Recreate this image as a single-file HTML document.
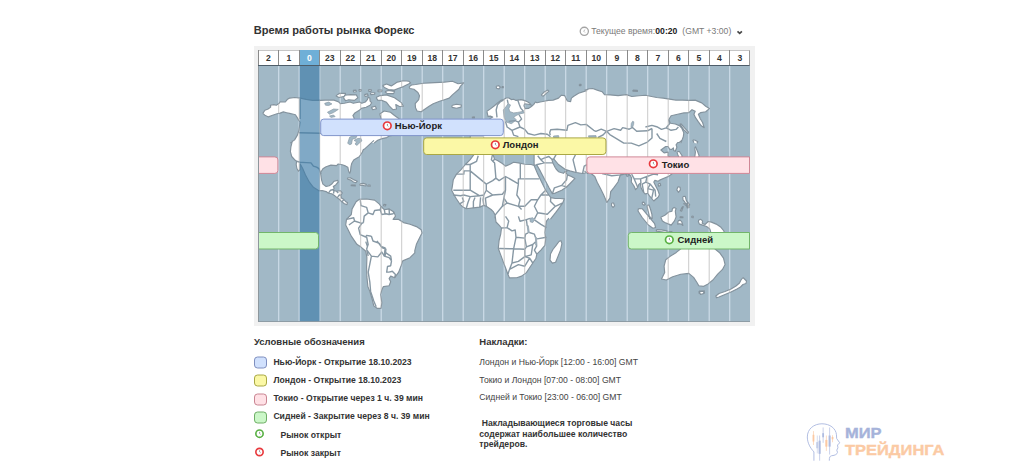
<!DOCTYPE html>
<html lang="ru">
<head>
<meta charset="utf-8">
<title>Время работы рынка Форекс</title>
<style>
html,body{margin:0;padding:0;background:#fff;}
body{width:1024px;height:473px;position:relative;overflow:hidden;font-family:"Liberation Sans",sans-serif;color:#333;}
.abs{position:absolute;white-space:nowrap;}
#title{left:253.8px;top:22px;font-size:11.05px;font-weight:bold;line-height:16.6px;color:#333;}
#curtime{left:591.2px;top:26px;font-size:8.64px;line-height:11px;color:#7a7a7a;}
#ct2,#ct3{top:26px;font-size:8.64px;line-height:11px;color:#7a7a7a;}
#ct2{left:655.3px;color:#222;}
#ct3{left:682.3px;}
#panel{left:254.2px;top:46px;width:500.4px;height:279.9px;background:#f1f1f1;}
#hours{z-index:2;left:257.6px;top:49.7px;width:492.2px;height:16px;background:#fff;border-top:1px solid #c6c6c6;border-bottom:1px solid #4e5d69;border-right:1px solid #999;box-sizing:border-box;}
#hours div{position:absolute;top:-1px;height:15px;width:20.5px;border-left:1px solid #8a8a8a;box-sizing:border-box;text-align:center;font-size:8.64px;font-weight:bold;line-height:16.6px;color:#333;}
#hours div.cur{background:#6fafd7;color:#fff;}
#map{left:258px;top:65px;width:492px;height:257px;background:#a1b8c6;overflow:hidden;}
.bar{position:absolute;box-sizing:border-box;height:17px;border:1px solid transparent;font-size:9.5px;font-weight:bold;line-height:14px;color:#222;background:none !important;border-color:transparent !important;}
.bl{position:absolute;top:2px;line-height:0;transform:translate(-0.2px,0.3px);}
.bt{position:absolute;top:0;}
.ic{display:block;}
.ny{background:#d1e1fd;border-color:#8c9fcf;}
.ln{background:#fbf8a6;border-color:#b4b45e;}
.tk{background:#ffe1e6;border-color:#dd9aa8;}
.sy{background:#cbf7c8;border-color:#7fbf78;}
.leg{font-size:8.64px;font-weight:bold;line-height:11px;color:#333;}
.sw{position:absolute;left:254.3px;width:12.3px;height:12px;box-sizing:border-box;border-width:1px;border-style:solid;border-radius:3.5px;transform:translateY(0.5px);}
.sw.ny{border-color:#7f8fbf;}.sw.ln{border-color:#a9a844;}.sw.tk{border-color:#c98592;}.sw.sy{border-color:#6fae66;}
.ov{font-size:8.64px;line-height:11px;color:#444;}
#lg1,#lg2{left:844.8px;font-size:14.2px;font-weight:bold;line-height:14px;transform-origin:0 0;-webkit-text-stroke:0.35px;}
#lg1{top:426.3px;color:#a6b3da;-webkit-text-stroke-color:#a6b3da;transform:scaleX(1.16);}
#lg2{top:443px;color:#fbcaa4;-webkit-text-stroke-color:#fbcaa4;transform:scaleX(1.16);}
</style>
</head>
<body>
<div id="title" class="abs">Время работы рынка Форекс</div>
<div id="curtime" class="abs">Текущее время:</div><div class="abs" id="ct2"><b>00:20</b></div><div class="abs" id="ct3">(GMT +3:00)</div>
<svg class="abs" style="left:578px;top:25px;" width="12" height="12" viewBox="0 0 12 12"><circle cx="6.3" cy="6.35" r="4.1" fill="#fff" stroke="#a4a4a4" stroke-width="1.3"/><path d="M6.8 4.6L5.8 6.3L7 7.5" fill="none" stroke="#b0b0b0" stroke-width="0.9"/></svg>
<svg class="abs" style="left:735px;top:28px;" width="9" height="8" viewBox="0 0 9 8"><path d="M2.5 3.4L4.7 5.4L6.9 3.4" fill="none" stroke="#484848" stroke-width="1.7"/></svg>
<div id="panel" class="abs"></div>
<div id="hours" class="abs"><div style="left:0.0px">2</div><div style="left:20.5px">1</div><div class="cur" style="left:41.0px">0</div><div style="left:61.5px">23</div><div style="left:82.0px">22</div><div style="left:102.5px">21</div><div style="left:123.0px">20</div><div style="left:143.5px">19</div><div style="left:164.0px">18</div><div style="left:184.5px">17</div><div style="left:205.0px">16</div><div style="left:225.5px">15</div><div style="left:246.0px">14</div><div style="left:266.5px">13</div><div style="left:287.0px">12</div><div style="left:307.5px">11</div><div style="left:328.0px">10</div><div style="left:348.5px">9</div><div style="left:369.0px">8</div><div style="left:389.5px">7</div><div style="left:410.0px">6</div><div style="left:430.5px">5</div><div style="left:451.0px">4</div><div style="left:471.5px">3</div></div>
<div id="map" class="abs">
<svg width="492" height="257" viewBox="0 0 492 257" style="position:absolute;left:0;top:0;">
<defs><clipPath id="lc"><path d="M4.8 48.4L6.9 45.3L10.1 44.0L12.7 42.1L12.4 40.2L15.9 39.6L18.3 40.2L20.9 38.6L22.2 36.7L27.3 37.0L29.2 34.6L31.6 33.1L36.8 32.5L42.1 33.1L48.2 34.4L54.6 35.4L61.0 35.1L62.3 35.4L67.1 35.1L76.0 35.1L80.8 37.0L82.4 38.6L86.4 38.3L92.0 37.0L95.3 38.3L101.7 37.0L103.8 38.3L107.3 37.0L109.4 34.6L110.2 32.2L111.8 33.0L112.1 36.2L113.7 37.8L112.1 40.2L108.1 42.3L103.3 43.4L101.7 45.0L96.9 47.9L94.9 50.6L96.1 53.0L96.4 56.4L123.7 56.4L121.8 48.9L126.1 46.0L132.5 47.3L136.5 50.5L141.4 54.0L145.4 58.8L149.4 63.6L141.4 69.1L131.4 70.9L128.8 72.6L124.0 73.6L119.7 75.2L116.0 78.1L32.1 78.1L36.6 74.9L39.4 70.1L41.0 65.3L42.1 57.2L40.6 55.0L39.4 52.9L37.4 49.7L35.5 49.3L31.6 48.4L28.6 47.7L25.4 46.9L22.2 48.1L19.0 48.7L14.6 50.3L10.4 51.9L6.9 50.3ZM77.9 30.9L81.6 28.3L87.5 28.3L86.7 31.2L81.1 32.5ZM85.5 32.8L86.7 30.2L92.4 29.6L98.3 29.9L99.9 32.8L96.4 35.4L90.8 34.7L87.5 35.7ZM95.1 25.4L98.0 25.1L98.3 26.7L95.7 27.0ZM100.9 24.5L103.1 24.5L103.1 26.1L101.2 26.1ZM110.5 24.5L113.4 24.8L113.1 26.4L110.8 26.4ZM112.4 27.7L116.9 27.7L116.6 29.3L112.8 29.6ZM106.3 29.6L109.5 28.9L110.2 30.6L107.3 31.5ZM119.7 25.1L124.0 25.1L123.7 26.7L120.1 26.7ZM118.1 32.5L122.1 30.6L128.5 29.9L136.5 32.8L143.3 37.6L145.4 41.2L141.4 41.5L137.8 39.6L138.5 44.0L134.9 44.7L131.4 41.2L128.5 37.3L123.7 35.4L119.7 35.1ZM126.9 26.7L130.4 25.4L136.5 26.4L135.7 28.6L129.3 28.6ZM124.5 20.6L128.5 19.0L133.3 20.9L139.4 17.1L145.4 15.8L151.0 16.3L152.6 18.0L145.4 21.6L140.1 23.5L136.2 25.1L130.4 24.5L126.9 22.8ZM113.2 42.4L117.3 41.2L118.5 43.7L114.8 44.7ZM193.7 40.5L198.4 39.2L203.4 40.0L203.0 42.1L198.5 43.2L194.2 42.4ZM214.4 51.8L216.4 51.8L216.4 53.0L214.4 53.0ZM238.2 21.2L240.8 20.6L242.4 22.2L240.8 24.0L238.5 23.3ZM244.0 21.6L245.3 21.6L245.3 22.7L244.0 22.7ZM283.2 30.2L285.8 27.3L289.9 25.1L290.9 26.1L288.0 28.6L285.4 31.2ZM321.4 19.3L323.0 19.3L323.0 20.6L321.4 20.6ZM228.9 46.3L232.4 43.9L236.4 40.7L239.3 38.3L242.9 35.4L245.8 34.6L248.2 33.0L250.9 33.0L253.3 34.6L255.7 34.2L258.1 35.4L262.9 34.6L266.2 35.4L269.4 36.7L271.8 38.3L273.2 40.0L270.2 39.2L266.6 38.7L266.0 40.7L267.1 43.6L270.7 43.4L273.4 41.5L275.8 39.4L277.4 37.0L279.0 37.8L282.2 37.0L286.2 36.2L290.3 35.4L295.1 35.1L300.5 33.1L303.4 30.2L306.6 30.6L307.8 33.1L309.4 36.0L312.6 36.7L313.4 33.1L315.8 31.2L320.6 28.3L329.4 25.4L329.4 78.1L212.2 78.1L212.2 71.0L225.0 71.0L231.5 54.0L234.7 52.1L232.3 51.1L230.0 51.4ZM326.4 25.4L331.2 23.8L334.7 23.5L339.2 25.1L344.1 26.7L346.5 29.6L352.1 29.9L360.1 30.6L368.2 29.6L373.8 31.5L381.0 30.7L387.4 30.2L392.3 31.2L398.7 32.5L405.1 33.1L411.5 34.1L418.0 35.1L424.4 35.1L430.8 35.4L437.2 35.1L443.7 37.9L447.7 41.2L451.4 43.6L447.7 46.8L442.8 47.6L440.4 49.2L442.4 54.0L444.6 57.5L446.2 62.7L443.3 60.8L440.4 56.9L437.5 52.7L435.9 49.2L437.2 46.3L434.0 44.7L430.8 47.6L426.0 47.9L419.6 49.2L413.1 50.8L410.7 54.8L412.5 58.2L417.3 59.0L421.3 60.6L423.7 63.0L425.8 67.8L425.3 71.8L423.7 75.9L422.8 78.1L326.4 78.1ZM374.9 25.1L379.4 25.4L379.4 26.4L374.9 26.1ZM421.8 59.1L423.1 58.8L426.3 62.7L430.5 67.2L429.8 68.5L425.7 64.6ZM434.7 74.7L437.2 75.2L439.8 76.7L438.8 78.4L435.9 77.8ZM116.0 75.4L110.8 80.2L107.3 83.4L105.2 84.7L104.4 87.0L101.2 91.8L95.7 95.0L93.8 98.2L93.0 101.4L92.5 106.2L91.7 108.2L90.6 106.2L89.8 102.2L87.4 100.9L84.2 99.8L80.2 99.0L78.5 100.6L72.9 100.1L68.1 101.7L64.9 103.8L62.5 107.8L63.6 115.1L64.9 119.1L68.1 121.5L71.3 120.7L73.7 119.1L76.1 116.2L79.7 115.4L80.2 117.0L77.7 119.9L75.3 121.5L76.1 123.1L75.3 125.5L78.5 126.3L82.6 125.8L84.2 127.9L82.9 130.3L83.4 132.9L85.9 134.5L87.5 136.4L89.6 137.7L89.0 139.6L86.4 138.7L83.8 136.8L81.6 134.5L79.3 132.9L76.1 130.3L73.7 128.7L70.5 128.2L68.1 126.6L64.1 125.5L60.9 125.8L55.4 122.3L51.4 117.2L47.5 109.9L44.7 103.5L42.1 98.7L42.1 104.3L40.5 106.2L38.9 103.5L38.2 99.5L38.6 96.3L36.6 94.7L33.7 91.5L32.4 86.6L32.9 81.8L34.5 75.4ZM89.3 113.0L92.2 112.7L95.4 114.6L99.4 116.2L97.8 117.8L95.4 117.0L93.0 115.1L89.8 114.3ZM101.8 118.8L105.2 118.4L108.3 119.4L107.9 121.0L104.4 120.4L102.2 120.4ZM109.9 120.0L112.1 120.0L112.1 121.3L109.9 121.2ZM93.2 119.7L97.3 120.0L97.3 121.0L93.2 120.7ZM125.6 139.3L127.9 139.6L127.5 140.9L125.6 140.6ZM217.0 88.2L228.3 88.2L234.7 88.6L236.6 94.3L239.5 95.6L244.3 98.5L247.5 101.1L251.5 99.5L255.6 97.2L260.4 97.9L266.8 99.2L273.2 99.5L276.1 100.5L279.7 109.1L283.7 117.2L287.7 125.2L290.9 130.0L292.8 132.6L297.3 133.5L302.1 133.5L306.3 133.9L304.7 138.0L302.1 141.6L297.6 147.7L292.5 154.1L237.6 154.1L237.1 150.1L235.5 146.9L233.1 144.5L228.3 141.3L225.8 140.4L221.8 142.1L215.4 142.9L208.2 143.7L205.0 142.1L201.7 138.8L198.5 134.0L196.1 130.0L193.7 125.2L194.5 120.4L195.3 114.7L198.5 109.1L202.6 105.1L207.4 99.5L212.2 94.7ZM329.4 88.2L329.4 107.5L324.6 108.5L318.2 107.5L311.8 105.9L307.0 104.3L300.5 99.5L295.7 93.9L293.8 94.3L294.9 97.9L297.3 102.7L298.1 104.0L300.5 106.7L305.4 108.3L307.4 106.2L309.4 105.6L307.8 107.5L309.4 109.9L313.4 111.5L316.9 113.6L315.8 114.7L312.6 118.0L308.6 122.0L303.7 125.2L297.3 128.1L294.4 128.7L290.9 122.5L286.7 114.4L282.5 106.4L278.7 99.8L276.1 100.5L276.1 88.2ZM423.7 75.4L421.3 77.5L419.7 77.5L418.1 79.9L418.9 82.3L417.3 86.3L415.7 85.5L415.4 82.8L413.8 84.4L411.5 84.1L410.1 81.5L407.7 81.5L402.9 85.0L406.1 87.9L410.1 87.1L410.1 91.1L413.1 93.1L414.7 105.9L413.8 109.0L410.6 111.4L406.5 113.0L401.7 115.1L400.1 116.2L396.9 115.4L395.8 117.0L397.7 121.0L400.1 125.8L401.4 129.8L400.1 132.3L397.7 134.3L395.8 136.0L393.7 133.5L391.3 130.6L389.7 128.2L387.3 129.0L385.7 127.4L383.3 123.4L382.5 120.2L382.9 117.8L380.8 119.4L379.7 122.3L377.6 124.7L376.0 121.0L373.3 117.0L373.6 113.0L372.0 109.8L368.0 109.0L362.4 109.8L360.0 117.0L355.9 122.6L352.7 126.6L351.9 133.1L350.5 135.1L348.9 137.4L345.7 130.0L342.5 123.6L339.2 117.2L336.8 111.5L332.8 108.2L329.6 108.5L326.4 105.9L326.4 75.4ZM389.0 140.4L391.0 140.0L392.6 144.5L393.9 149.3L394.2 154.1L391.6 154.1L391.0 149.3L389.7 144.5ZM353.7 138.0L355.6 138.0L356.6 140.9L355.0 142.5L353.5 140.6ZM400.1 119.1L402.2 118.4L402.7 120.4L400.6 121.2ZM419.9 121.7L422.1 122.3L422.4 124.9L420.5 127.4L418.8 124.9ZM424.7 131.6L427.3 131.3L428.2 135.1L430.2 138.7L428.6 140.0L426.3 136.4L425.0 134.8ZM428.9 140.9L430.8 140.6L431.1 142.5L429.2 142.9ZM424.1 141.9L425.3 141.6L423.7 146.1L422.4 145.7ZM384.1 137.4L385.8 137.1L387.3 139.3L386.1 140.3L384.5 139.3ZM418.9 87.1L421.2 86.3L424.1 90.8L423.7 93.1L421.2 93.1L419.9 89.9ZM436.6 83.1L437.5 81.8L439.8 87.1L441.1 90.8L440.4 93.1L436.6 93.1L437.4 87.1ZM292.5 151.4L290.9 153.0L288.5 156.2L287.7 161.0L286.9 167.5L287.7 173.9L286.9 180.3L282.9 185.1L278.8 189.1L278.0 193.2L274.8 198.0L271.6 202.8L268.4 207.6L263.6 211.1L258.8 212.8L251.5 212.9L249.9 209.2L247.5 202.8L245.1 196.4L242.7 189.9L240.3 183.5L241.1 175.5L242.7 169.1L243.5 163.0L241.1 160.2L238.0 157.0L237.6 154.0L236.6 151.4ZM302.9 175.5L303.9 178.7L302.5 185.1L299.9 191.6L297.6 197.2L294.4 198.1L292.0 195.1L292.5 189.1L294.9 184.5L298.1 180.3L301.0 176.5ZM394.5 151.4L393.2 154.0L391.9 151.4ZM398.4 164.6L403.5 164.9L409.1 165.9L409.0 167.5L403.5 166.8L398.4 166.2ZM410.7 166.5L413.9 166.5L413.9 167.5L410.7 167.5ZM456.5 169.1L456.5 183.5L461.6 187.7L465.5 193.2L467.1 199.6L464.5 204.4L459.7 209.2L454.9 215.0L450.1 218.9L445.3 221.4L440.8 220.8L438.8 217.3L435.6 212.4L430.8 208.4L422.8 209.2L414.7 211.8L408.3 215.0L403.5 214.0L406.7 207.6L406.1 201.2L407.7 194.8L411.8 191.6L418.3 187.4L422.8 183.8L422.8 169.1ZM441.4 226.6L445.3 226.2L446.1 228.5L442.4 229.5ZM441.1 226.0L446.2 225.7L446.5 227.9L443.6 229.2L441.1 228.2ZM440.6 155.1L442.6 154.3L444.6 155.9L444.2 158.3L447.0 159.5L450.2 156.5L453.4 157.1L458.2 159.1L463.0 162.3L465.5 165.5L466.3 167.1L466.6 168.7L452.8 168.7L452.6 166.7L451.8 163.9L448.6 161.5L444.6 160.1L441.4 159.1L440.4 156.7ZM402.8 152.3L406.8 150.3L410.8 147.0L414.0 146.2L414.4 143.8L416.1 142.4L418.1 143.4L417.3 146.2L417.7 149.1L418.1 151.9L416.5 155.9L413.2 160.1L410.8 159.1L406.8 157.5L404.4 155.9ZM420.1 155.9L422.1 155.1L423.7 156.7L424.9 160.5L423.3 159.1L421.3 158.7L419.7 159.1ZM425.3 138.6L428.5 139.0L429.7 137.0L431.7 139.8L429.3 142.2L428.1 140.6ZM422.1 151.5L424.9 151.7L424.9 152.7L422.1 152.6ZM433.7 151.0L435.3 151.2L435.2 152.7L433.8 152.5ZM101.4 134.3L108.6 134.0L116.6 135.1L121.4 139.1L123.0 141.5L126.3 144.7L131.1 143.9L135.9 147.1L137.5 151.1L135.1 154.4L140.7 154.4L145.5 157.6L152.0 159.2L158.4 161.6L163.2 164.8L164.0 168.0L161.6 172.8L158.4 179.3L156.8 185.7L156.8 187.9L152.0 192.7L144.7 195.9L143.1 200.7L140.7 207.1L136.7 212.7L132.7 211.1L131.1 213.6L132.7 216.8L131.1 220.8L125.4 221.6L123.8 224.8L122.7 229.6L123.8 237.6L123.0 243.3L119.0 243.3L115.8 240.9L114.2 234.4L111.8 226.4L109.9 221.6L108.9 211.9L108.6 202.3L108.9 192.7L107.8 186.2L102.2 181.4L98.9 179.3L93.3 171.2L90.1 164.8L87.7 160.0L88.5 154.4L93.3 149.5L94.1 143.9L98.1 136.7ZM151.1 21.9L153.5 20.0L157.5 19.5L165.5 18.3L172.0 17.9L186.4 17.1L194.4 16.3L200.1 18.7L205.7 17.9L202.5 21.1L200.9 24.3L194.4 29.9L191.2 33.1L186.4 34.7L181.6 36.3L175.2 38.7L171.1 41.2L167.1 44.0L163.1 46.8L159.1 46.0L157.5 42.8L157.2 38.7L160.7 34.7L161.5 30.7L159.9 27.5L155.9 24.3L151.9 23.5ZM380.4 143.6L384.2 143.7L390.4 151.2L396.6 158.7L397.6 162.5L394.9 163.2L390.4 160.0L384.2 152.5L380.0 146.0ZM485.0 212.5L486.5 214.0L488.5 216.0L488.0 218.5L485.0 219.5L482.5 222.0L479.0 224.0L473.0 227.0L467.0 229.5L461.0 232.0L458.5 232.8L457.8 231.0L461.0 228.5L467.0 226.5L473.0 224.0L478.0 221.0L481.5 218.0L483.0 215.0Z"/></clipPath></defs>
<path d="M20.7 0V257M41.2 0V257M61.7 0V257M82.2 0V257M102.7 0V257M123.2 0V257M143.7 0V257M164.2 0V257M184.7 0V257M205.2 0V257M225.7 0V257M246.2 0V257M266.7 0V257M287.2 0V257M307.7 0V257M328.2 0V257M348.7 0V257M369.2 0V257M389.7 0V257M410.2 0V257M430.7 0V257M451.2 0V257M471.7 0V257" fill="none" stroke="#cddce8" stroke-width="1.2"/>
<path d="M4.8 48.4L6.9 45.3L10.1 44.0L12.7 42.1L12.4 40.2L15.9 39.6L18.3 40.2L20.9 38.6L22.2 36.7L27.3 37.0L29.2 34.6L31.6 33.1L36.8 32.5L42.1 33.1L48.2 34.4L54.6 35.4L61.0 35.1L62.3 35.4L67.1 35.1L76.0 35.1L80.8 37.0L82.4 38.6L86.4 38.3L92.0 37.0L95.3 38.3L101.7 37.0L103.8 38.3L107.3 37.0L109.4 34.6L110.2 32.2L111.8 33.0L112.1 36.2L113.7 37.8L112.1 40.2L108.1 42.3L103.3 43.4L101.7 45.0L96.9 47.9L94.9 50.6L96.1 53.0L96.4 56.4L123.7 56.4L121.8 48.9L126.1 46.0L132.5 47.3L136.5 50.5L141.4 54.0L145.4 58.8L149.4 63.6L141.4 69.1L131.4 70.9L128.8 72.6L124.0 73.6L119.7 75.2L116.0 78.1L32.1 78.1L36.6 74.9L39.4 70.1L41.0 65.3L42.1 57.2L40.6 55.0L39.4 52.9L37.4 49.7L35.5 49.3L31.6 48.4L28.6 47.7L25.4 46.9L22.2 48.1L19.0 48.7L14.6 50.3L10.4 51.9L6.9 50.3ZM77.9 30.9L81.6 28.3L87.5 28.3L86.7 31.2L81.1 32.5ZM85.5 32.8L86.7 30.2L92.4 29.6L98.3 29.9L99.9 32.8L96.4 35.4L90.8 34.7L87.5 35.7ZM95.1 25.4L98.0 25.1L98.3 26.7L95.7 27.0ZM100.9 24.5L103.1 24.5L103.1 26.1L101.2 26.1ZM110.5 24.5L113.4 24.8L113.1 26.4L110.8 26.4ZM112.4 27.7L116.9 27.7L116.6 29.3L112.8 29.6ZM106.3 29.6L109.5 28.9L110.2 30.6L107.3 31.5ZM119.7 25.1L124.0 25.1L123.7 26.7L120.1 26.7ZM118.1 32.5L122.1 30.6L128.5 29.9L136.5 32.8L143.3 37.6L145.4 41.2L141.4 41.5L137.8 39.6L138.5 44.0L134.9 44.7L131.4 41.2L128.5 37.3L123.7 35.4L119.7 35.1ZM126.9 26.7L130.4 25.4L136.5 26.4L135.7 28.6L129.3 28.6ZM124.5 20.6L128.5 19.0L133.3 20.9L139.4 17.1L145.4 15.8L151.0 16.3L152.6 18.0L145.4 21.6L140.1 23.5L136.2 25.1L130.4 24.5L126.9 22.8ZM113.2 42.4L117.3 41.2L118.5 43.7L114.8 44.7ZM193.7 40.5L198.4 39.2L203.4 40.0L203.0 42.1L198.5 43.2L194.2 42.4ZM214.4 51.8L216.4 51.8L216.4 53.0L214.4 53.0ZM238.2 21.2L240.8 20.6L242.4 22.2L240.8 24.0L238.5 23.3ZM244.0 21.6L245.3 21.6L245.3 22.7L244.0 22.7ZM283.2 30.2L285.8 27.3L289.9 25.1L290.9 26.1L288.0 28.6L285.4 31.2ZM321.4 19.3L323.0 19.3L323.0 20.6L321.4 20.6ZM228.9 46.3L232.4 43.9L236.4 40.7L239.3 38.3L242.9 35.4L245.8 34.6L248.2 33.0L250.9 33.0L253.3 34.6L255.7 34.2L258.1 35.4L262.9 34.6L266.2 35.4L269.4 36.7L271.8 38.3L273.2 40.0L270.2 39.2L266.6 38.7L266.0 40.7L267.1 43.6L270.7 43.4L273.4 41.5L275.8 39.4L277.4 37.0L279.0 37.8L282.2 37.0L286.2 36.2L290.3 35.4L295.1 35.1L300.5 33.1L303.4 30.2L306.6 30.6L307.8 33.1L309.4 36.0L312.6 36.7L313.4 33.1L315.8 31.2L320.6 28.3L329.4 25.4L329.4 78.1L212.2 78.1L212.2 71.0L225.0 71.0L231.5 54.0L234.7 52.1L232.3 51.1L230.0 51.4ZM326.4 25.4L331.2 23.8L334.7 23.5L339.2 25.1L344.1 26.7L346.5 29.6L352.1 29.9L360.1 30.6L368.2 29.6L373.8 31.5L381.0 30.7L387.4 30.2L392.3 31.2L398.7 32.5L405.1 33.1L411.5 34.1L418.0 35.1L424.4 35.1L430.8 35.4L437.2 35.1L443.7 37.9L447.7 41.2L451.4 43.6L447.7 46.8L442.8 47.6L440.4 49.2L442.4 54.0L444.6 57.5L446.2 62.7L443.3 60.8L440.4 56.9L437.5 52.7L435.9 49.2L437.2 46.3L434.0 44.7L430.8 47.6L426.0 47.9L419.6 49.2L413.1 50.8L410.7 54.8L412.5 58.2L417.3 59.0L421.3 60.6L423.7 63.0L425.8 67.8L425.3 71.8L423.7 75.9L422.8 78.1L326.4 78.1ZM374.9 25.1L379.4 25.4L379.4 26.4L374.9 26.1ZM421.8 59.1L423.1 58.8L426.3 62.7L430.5 67.2L429.8 68.5L425.7 64.6ZM434.7 74.7L437.2 75.2L439.8 76.7L438.8 78.4L435.9 77.8ZM116.0 75.4L110.8 80.2L107.3 83.4L105.2 84.7L104.4 87.0L101.2 91.8L95.7 95.0L93.8 98.2L93.0 101.4L92.5 106.2L91.7 108.2L90.6 106.2L89.8 102.2L87.4 100.9L84.2 99.8L80.2 99.0L78.5 100.6L72.9 100.1L68.1 101.7L64.9 103.8L62.5 107.8L63.6 115.1L64.9 119.1L68.1 121.5L71.3 120.7L73.7 119.1L76.1 116.2L79.7 115.4L80.2 117.0L77.7 119.9L75.3 121.5L76.1 123.1L75.3 125.5L78.5 126.3L82.6 125.8L84.2 127.9L82.9 130.3L83.4 132.9L85.9 134.5L87.5 136.4L89.6 137.7L89.0 139.6L86.4 138.7L83.8 136.8L81.6 134.5L79.3 132.9L76.1 130.3L73.7 128.7L70.5 128.2L68.1 126.6L64.1 125.5L60.9 125.8L55.4 122.3L51.4 117.2L47.5 109.9L44.7 103.5L42.1 98.7L42.1 104.3L40.5 106.2L38.9 103.5L38.2 99.5L38.6 96.3L36.6 94.7L33.7 91.5L32.4 86.6L32.9 81.8L34.5 75.4ZM89.3 113.0L92.2 112.7L95.4 114.6L99.4 116.2L97.8 117.8L95.4 117.0L93.0 115.1L89.8 114.3ZM101.8 118.8L105.2 118.4L108.3 119.4L107.9 121.0L104.4 120.4L102.2 120.4ZM109.9 120.0L112.1 120.0L112.1 121.3L109.9 121.2ZM93.2 119.7L97.3 120.0L97.3 121.0L93.2 120.7ZM125.6 139.3L127.9 139.6L127.5 140.9L125.6 140.6ZM217.0 88.2L228.3 88.2L234.7 88.6L236.6 94.3L239.5 95.6L244.3 98.5L247.5 101.1L251.5 99.5L255.6 97.2L260.4 97.9L266.8 99.2L273.2 99.5L276.1 100.5L279.7 109.1L283.7 117.2L287.7 125.2L290.9 130.0L292.8 132.6L297.3 133.5L302.1 133.5L306.3 133.9L304.7 138.0L302.1 141.6L297.6 147.7L292.5 154.1L237.6 154.1L237.1 150.1L235.5 146.9L233.1 144.5L228.3 141.3L225.8 140.4L221.8 142.1L215.4 142.9L208.2 143.7L205.0 142.1L201.7 138.8L198.5 134.0L196.1 130.0L193.7 125.2L194.5 120.4L195.3 114.7L198.5 109.1L202.6 105.1L207.4 99.5L212.2 94.7ZM329.4 88.2L329.4 107.5L324.6 108.5L318.2 107.5L311.8 105.9L307.0 104.3L300.5 99.5L295.7 93.9L293.8 94.3L294.9 97.9L297.3 102.7L298.1 104.0L300.5 106.7L305.4 108.3L307.4 106.2L309.4 105.6L307.8 107.5L309.4 109.9L313.4 111.5L316.9 113.6L315.8 114.7L312.6 118.0L308.6 122.0L303.7 125.2L297.3 128.1L294.4 128.7L290.9 122.5L286.7 114.4L282.5 106.4L278.7 99.8L276.1 100.5L276.1 88.2ZM423.7 75.4L421.3 77.5L419.7 77.5L418.1 79.9L418.9 82.3L417.3 86.3L415.7 85.5L415.4 82.8L413.8 84.4L411.5 84.1L410.1 81.5L407.7 81.5L402.9 85.0L406.1 87.9L410.1 87.1L410.1 91.1L413.1 93.1L414.7 105.9L413.8 109.0L410.6 111.4L406.5 113.0L401.7 115.1L400.1 116.2L396.9 115.4L395.8 117.0L397.7 121.0L400.1 125.8L401.4 129.8L400.1 132.3L397.7 134.3L395.8 136.0L393.7 133.5L391.3 130.6L389.7 128.2L387.3 129.0L385.7 127.4L383.3 123.4L382.5 120.2L382.9 117.8L380.8 119.4L379.7 122.3L377.6 124.7L376.0 121.0L373.3 117.0L373.6 113.0L372.0 109.8L368.0 109.0L362.4 109.8L360.0 117.0L355.9 122.6L352.7 126.6L351.9 133.1L350.5 135.1L348.9 137.4L345.7 130.0L342.5 123.6L339.2 117.2L336.8 111.5L332.8 108.2L329.6 108.5L326.4 105.9L326.4 75.4ZM389.0 140.4L391.0 140.0L392.6 144.5L393.9 149.3L394.2 154.1L391.6 154.1L391.0 149.3L389.7 144.5ZM353.7 138.0L355.6 138.0L356.6 140.9L355.0 142.5L353.5 140.6ZM400.1 119.1L402.2 118.4L402.7 120.4L400.6 121.2ZM419.9 121.7L422.1 122.3L422.4 124.9L420.5 127.4L418.8 124.9ZM424.7 131.6L427.3 131.3L428.2 135.1L430.2 138.7L428.6 140.0L426.3 136.4L425.0 134.8ZM428.9 140.9L430.8 140.6L431.1 142.5L429.2 142.9ZM424.1 141.9L425.3 141.6L423.7 146.1L422.4 145.7ZM384.1 137.4L385.8 137.1L387.3 139.3L386.1 140.3L384.5 139.3ZM418.9 87.1L421.2 86.3L424.1 90.8L423.7 93.1L421.2 93.1L419.9 89.9ZM436.6 83.1L437.5 81.8L439.8 87.1L441.1 90.8L440.4 93.1L436.6 93.1L437.4 87.1ZM292.5 151.4L290.9 153.0L288.5 156.2L287.7 161.0L286.9 167.5L287.7 173.9L286.9 180.3L282.9 185.1L278.8 189.1L278.0 193.2L274.8 198.0L271.6 202.8L268.4 207.6L263.6 211.1L258.8 212.8L251.5 212.9L249.9 209.2L247.5 202.8L245.1 196.4L242.7 189.9L240.3 183.5L241.1 175.5L242.7 169.1L243.5 163.0L241.1 160.2L238.0 157.0L237.6 154.0L236.6 151.4ZM302.9 175.5L303.9 178.7L302.5 185.1L299.9 191.6L297.6 197.2L294.4 198.1L292.0 195.1L292.5 189.1L294.9 184.5L298.1 180.3L301.0 176.5ZM394.5 151.4L393.2 154.0L391.9 151.4ZM398.4 164.6L403.5 164.9L409.1 165.9L409.0 167.5L403.5 166.8L398.4 166.2ZM410.7 166.5L413.9 166.5L413.9 167.5L410.7 167.5ZM456.5 169.1L456.5 183.5L461.6 187.7L465.5 193.2L467.1 199.6L464.5 204.4L459.7 209.2L454.9 215.0L450.1 218.9L445.3 221.4L440.8 220.8L438.8 217.3L435.6 212.4L430.8 208.4L422.8 209.2L414.7 211.8L408.3 215.0L403.5 214.0L406.7 207.6L406.1 201.2L407.7 194.8L411.8 191.6L418.3 187.4L422.8 183.8L422.8 169.1ZM441.4 226.6L445.3 226.2L446.1 228.5L442.4 229.5ZM441.1 226.0L446.2 225.7L446.5 227.9L443.6 229.2L441.1 228.2ZM440.6 155.1L442.6 154.3L444.6 155.9L444.2 158.3L447.0 159.5L450.2 156.5L453.4 157.1L458.2 159.1L463.0 162.3L465.5 165.5L466.3 167.1L466.6 168.7L452.8 168.7L452.6 166.7L451.8 163.9L448.6 161.5L444.6 160.1L441.4 159.1L440.4 156.7ZM402.8 152.3L406.8 150.3L410.8 147.0L414.0 146.2L414.4 143.8L416.1 142.4L418.1 143.4L417.3 146.2L417.7 149.1L418.1 151.9L416.5 155.9L413.2 160.1L410.8 159.1L406.8 157.5L404.4 155.9ZM420.1 155.9L422.1 155.1L423.7 156.7L424.9 160.5L423.3 159.1L421.3 158.7L419.7 159.1ZM425.3 138.6L428.5 139.0L429.7 137.0L431.7 139.8L429.3 142.2L428.1 140.6ZM422.1 151.5L424.9 151.7L424.9 152.7L422.1 152.6ZM433.7 151.0L435.3 151.2L435.2 152.7L433.8 152.5ZM101.4 134.3L108.6 134.0L116.6 135.1L121.4 139.1L123.0 141.5L126.3 144.7L131.1 143.9L135.9 147.1L137.5 151.1L135.1 154.4L140.7 154.4L145.5 157.6L152.0 159.2L158.4 161.6L163.2 164.8L164.0 168.0L161.6 172.8L158.4 179.3L156.8 185.7L156.8 187.9L152.0 192.7L144.7 195.9L143.1 200.7L140.7 207.1L136.7 212.7L132.7 211.1L131.1 213.6L132.7 216.8L131.1 220.8L125.4 221.6L123.8 224.8L122.7 229.6L123.8 237.6L123.0 243.3L119.0 243.3L115.8 240.9L114.2 234.4L111.8 226.4L109.9 221.6L108.9 211.9L108.6 202.3L108.9 192.7L107.8 186.2L102.2 181.4L98.9 179.3L93.3 171.2L90.1 164.8L87.7 160.0L88.5 154.4L93.3 149.5L94.1 143.9L98.1 136.7ZM151.1 21.9L153.5 20.0L157.5 19.5L165.5 18.3L172.0 17.9L186.4 17.1L194.4 16.3L200.1 18.7L205.7 17.9L202.5 21.1L200.9 24.3L194.4 29.9L191.2 33.1L186.4 34.7L181.6 36.3L175.2 38.7L171.1 41.2L167.1 44.0L163.1 46.8L159.1 46.0L157.5 42.8L157.2 38.7L160.7 34.7L161.5 30.7L159.9 27.5L155.9 24.3L151.9 23.5ZM380.4 143.6L384.2 143.7L390.4 151.2L396.6 158.7L397.6 162.5L394.9 163.2L390.4 160.0L384.2 152.5L380.0 146.0ZM485.0 212.5L486.5 214.0L488.5 216.0L488.0 218.5L485.0 219.5L482.5 222.0L479.0 224.0L473.0 227.0L467.0 229.5L461.0 232.0L458.5 232.8L457.8 231.0L461.0 228.5L467.0 226.5L473.0 224.0L478.0 221.0L481.5 218.0L483.0 215.0Z" fill="#fff"/>
<path d="M66.7 38.3L70.7 37.1L73.9 38.9L70.7 40.5L67.5 40.2ZM69.4 47.3L75.5 44.0L80.3 44.4L75.5 47.6L71.5 49.2ZM71.5 51.1L75.5 50.0L77.1 51.6L73.1 52.4ZM245.3 45.0L248.5 41.0L250.1 38.6L252.5 39.9L250.9 43.4L251.7 46.6L255.7 47.9L259.7 47.4L265.4 46.3L266.2 47.9L261.3 49.0L258.1 50.6L255.7 52.2L258.1 54.6L255.7 57.1L253.3 58.7L248.5 57.1L246.1 52.2ZM271.9 153.3L274.8 152.7L276.4 154.9L274.8 157.5L272.3 156.9ZM269.2 161.0L270.3 160.7L271.3 167.5L270.0 167.8ZM277.4 172.3L278.4 172.3L279.0 180.3L277.7 180.3ZM89.7 78.3L91.6 72.3L94.4 70.9L98.9 71.2L97.7 73.3L94.4 74.2L93.5 79.0L91.8 79.7ZM96.0 75.4L99.5 73.5L102.9 73.3L103.9 75.9L101.1 78.3L98.9 80.4L97.0 79.0L98.7 76.8ZM373.0 62.2L373.3 58.5L374.6 56.3L375.8 56.8L375.6 59.5L374.4 62.6ZM330.5 70.8L338.0 70.6L338.2 72.2L330.8 72.2ZM295.5 71.0L300.5 70.6L301.0 72.4L295.5 72.4Z" fill="#a1b8c6" stroke="#8b9ba6" stroke-width="0.7"/>
<path d="M42.1 33.9L42.1 54.0M245.3 35.1L242.1 37.0L239.5 39.9L238.2 45.0L239.0 52.4M259.7 35.1L261.3 39.4L262.9 43.4L265.4 46.3M249.3 34.6L250.1 38.6M260.9 49.5L263.6 54.0L260.4 57.2L262.0 62.0L266.8 64.4L270.0 68.5L276.4 70.1L282.9 68.5L289.3 69.3L292.5 71.7M250.7 56.4L257.2 55.6L260.4 57.2M247.5 56.4L249.1 62.0L254.0 65.3L262.0 62.0M254.0 65.3L255.6 70.1L260.4 71.7M387.4 62.0L393.9 60.4L398.7 61.7L403.5 64.4L408.3 62.8L411.5 58.8L410.7 54.8M408.3 62.8L413.1 65.3L418.0 64.4L420.4 62.0M398.7 68.5L401.9 73.3L408.3 76.5M38.6 96.3L42.1 97.2L48.2 97.6L53.0 97.9L55.4 101.1L58.6 102.1L61.0 103.7L63.0 109.1M70.5 128.2L72.6 125.2L75.3 124.5M76.1 125.2L75.5 128.7M79.3 132.9L81.1 130.0L82.9 130.3M80.3 128.1L78.5 126.3M83.8 136.8L85.9 134.8M207.4 99.5L212.2 99.5L218.6 96.3L220.2 90.7M198.5 109.1L205.8 109.1L206.1 105.9L212.2 105.9L212.2 99.5M212.2 105.9L212.2 125.2L195.3 125.2M212.2 105.9L228.3 119.1L234.7 115.6L237.9 113.1M234.7 88.6L233.4 94.7L236.6 97.9L237.9 113.1L241.1 115.6L247.5 111.5L260.4 118.8M236.6 94.3L234.7 96.3L236.6 97.9M262.3 98.7L262.3 113.9L260.4 113.9L260.4 118.8L247.5 111.5M262.3 113.9L281.3 113.9M228.3 119.1L228.3 125.2L225.8 130.0L221.8 130.8L212.2 125.2M228.3 125.2L234.7 130.0L244.3 129.2L247.5 125.2L247.5 111.5M260.4 118.8L258.8 130.0L262.0 134.8L260.4 141.3L263.6 144.5M247.5 125.2L245.9 133.2L249.1 138.0M287.7 125.2L282.9 130.0L279.7 134.8L276.4 141.3L279.7 147.7L276.4 154.1M282.9 130.0L290.9 130.0M279.7 134.8L273.2 134.8L266.8 141.3L260.4 141.3M279.7 147.7L289.3 149.3L297.3 141.3L304.7 138.0M292.8 132.6L292.5 136.4L297.3 141.3M195.3 130.0L202.6 130.8L205.8 130.0L212.2 131.6M201.7 138.8L205.8 136.4L204.2 132.4M208.2 143.7L209.8 138.0L212.2 131.6L221.8 130.8M215.4 142.9L215.4 136.4L217.0 132.4M221.8 142.1L222.6 132.4M225.8 140.4L225.0 134.8L225.8 130.0M228.3 141.3L227.4 133.2L234.7 130.0M237.1 150.1L244.3 141.3L245.9 133.2M244.3 141.3L249.1 138.0L260.4 141.3M278.4 99.8L286.1 97.9L294.9 97.9M282.9 94.7L286.1 97.9M294.4 128.7L296.4 122.8L303.7 120.4L308.6 122.0M303.7 120.4L308.6 114.7L309.4 109.9M293.8 94.3L290.9 91.5L286.1 93.1L282.9 94.7L279.7 90.7M295.7 93.9L298.9 88.2M318.2 107.5L316.6 101.1L315.0 94.7L318.2 88.2M324.6 108.5L326.2 101.1L329.4 99.5M332.8 108.2L336.0 104.3L340.9 99.5M344.1 108.5L353.7 110.7L363.3 109.9L365.7 109.4M368.0 109.0L369.1 111.5L372.0 109.8M373.6 109.1L376.2 113.9L379.7 122.3M376.2 113.9L382.6 113.9L382.9 117.8M382.6 113.9L389.0 111.5L395.5 109.1L400.1 109.8M389.0 111.5L387.8 117.2L392.3 119.1L397.1 125.2L397.7 131.6M387.8 117.2L384.2 119.1L385.7 127.4M392.3 119.1L389.7 123.6L389.7 128.2M389.7 123.6L395.5 125.2L393.7 133.5M243.5 163.0L249.1 162.6L254.0 165.9L257.2 165.0L258.0 172.3L266.8 173.1L267.6 169.1L270.0 167.8M241.1 183.5L255.6 183.8L258.0 172.3M255.6 183.8L266.8 184.3L268.4 181.9L274.8 179.5L277.4 177.1M266.8 173.1L268.4 181.9M255.6 183.8L254.0 198.0L251.5 204.4L249.9 209.2M254.0 198.0L260.4 196.4L266.8 191.6L266.8 184.3M266.8 191.6L271.6 193.2L274.8 198.0M274.8 179.5L273.2 189.9L266.8 191.6M251.5 204.4L260.4 199.6L266.8 201.2L271.6 193.2M276.4 154.9L282.9 159.4L288.5 162.6M271.3 167.5L276.4 169.1L277.4 172.3M279.0 173.9L288.5 172.3M279.0 180.3L276.4 185.1L278.8 189.1M269.2 161.0L268.4 154.6L271.9 153.3M249.1 162.6L250.7 156.2L247.5 151.4M260.4 151.4L262.0 156.2L268.4 154.6M41.0 67.8L63.0 68.3M292.2 70.1L291.7 67.4L292.7 64.7L299.2 64.2L308.9 65.3L309.9 60.4L317.4 57.7L322.8 59.9L328.2 59.4L335.7 65.3L337.9 66.3L343.2 64.2L348.6 66.3M348.6 66.3L356.1 63.6L362.6 65.3L364.7 62.6L371.2 64.2L374.5 62.5L378.7 66.3L389.4 65.8L394.0 63.5M348.6 66.3L351.8 69.6L357.2 72.8L365.8 78.1L373.3 78.1L380.8 80.8L389.4 77.1L394.0 73.0L394.0 63.5M348.6 66.3L345.0 70.0L340.0 72.4M102.2 135.1L103.0 140.7L108.6 142.3L110.2 147.9L106.2 151.1L105.4 157.6M110.2 147.9L115.0 149.5L116.6 145.5L122.2 144.7L123.0 141.5M122.2 144.7L123.8 149.5L127.9 148.7L131.1 149.5L135.1 148.7L135.9 147.1M126.3 144.7L127.1 149.1M131.1 143.9L131.4 149.5M88.5 154.4L95.7 152.7L96.5 156.0L90.9 160.0M96.5 156.0L103.8 158.4L105.4 157.6M103.8 158.4L100.6 163.2L102.2 169.6L107.8 172.0L108.6 170.4L113.4 171.2M113.4 171.2L115.0 176.0L121.4 178.4L123.8 182.5L127.9 184.1L127.1 191.0M108.6 172.0L110.2 179.3L108.6 184.1L110.2 191.0M108.6 184.6L113.4 191.1L111.8 199.1L110.2 207.1L111.8 216.8L112.6 226.4L115.8 236.0L118.2 241.7M113.4 191.1L119.8 191.9L123.8 187.0L126.3 191.1L131.1 192.7L133.5 195.9L132.7 200.7L129.5 201.5L128.7 207.1L131.1 207.1M107.8 176.6L109.4 181.4L108.6 184.6M119.0 175.8L123.0 181.4L127.1 183.0L126.3 191.1M131.1 207.1L134.3 206.3L137.5 209.5L136.7 212.7M127.1 183.0L127.9 187.9L132.7 191.1L133.5 195.9" fill="none" stroke="#8798a4" stroke-width="1.4" stroke-linejoin="round"/>
<path d="M4.8 48.4L6.9 45.3L10.1 44.0L12.7 42.1L12.4 40.2L15.9 39.6L18.3 40.2L20.9 38.6L22.2 36.7L27.3 37.0L29.2 34.6L31.6 33.1L36.8 32.5L42.1 33.1L48.2 34.4L54.6 35.4L61.0 35.1L62.3 35.4L67.1 35.1L76.0 35.1L80.8 37.0L82.4 38.6L86.4 38.3L92.0 37.0L95.3 38.3L101.7 37.0L103.8 38.3L107.3 37.0L109.4 34.6L110.2 32.2L111.8 33.0L112.1 36.2L113.7 37.8L112.1 40.2L108.1 42.3L103.3 43.4L101.7 45.0L96.9 47.9L94.9 50.6L96.1 53.0L96.4 56.4L123.7 56.4L121.8 48.9L126.1 46.0L132.5 47.3L136.5 50.5L141.4 54.0L145.4 58.8L149.4 63.6L141.4 69.1L131.4 70.9L128.8 72.6L124.0 73.6L119.7 75.2L116.0 78.1M32.1 78.1L36.6 74.9L39.4 70.1L41.0 65.3L42.1 57.2L40.6 55.0L39.4 52.9L37.4 49.7L35.5 49.3L31.6 48.4L28.6 47.7L25.4 46.9L22.2 48.1L19.0 48.7L14.6 50.3L10.4 51.9L6.9 50.3L4.8 48.4M77.9 30.9L81.6 28.3L87.5 28.3L86.7 31.2L81.1 32.5L77.9 30.9M85.5 32.8L86.7 30.2L92.4 29.6L98.3 29.9L99.9 32.8L96.4 35.4L90.8 34.7L87.5 35.7L85.5 32.8M95.1 25.4L98.0 25.1L98.3 26.7L95.7 27.0L95.1 25.4M100.9 24.5L103.1 24.5L103.1 26.1L101.2 26.1L100.9 24.5M110.5 24.5L113.4 24.8L113.1 26.4L110.8 26.4L110.5 24.5M112.4 27.7L116.9 27.7L116.6 29.3L112.8 29.6L112.4 27.7M106.3 29.6L109.5 28.9L110.2 30.6L107.3 31.5L106.3 29.6M119.7 25.1L124.0 25.1L123.7 26.7L120.1 26.7L119.7 25.1M118.1 32.5L122.1 30.6L128.5 29.9L136.5 32.8L143.3 37.6L145.4 41.2L141.4 41.5L137.8 39.6L138.5 44.0L134.9 44.7L131.4 41.2L128.5 37.3L123.7 35.4L119.7 35.1L118.1 32.5M126.9 26.7L130.4 25.4L136.5 26.4L135.7 28.6L129.3 28.6L126.9 26.7M124.5 20.6L128.5 19.0L133.3 20.9L139.4 17.1L145.4 15.8L151.0 16.3L152.6 18.0L145.4 21.6L140.1 23.5L136.2 25.1L130.4 24.5L126.9 22.8L124.5 20.6M113.2 42.4L117.3 41.2L118.5 43.7L114.8 44.7L113.2 42.4M193.7 40.5L198.4 39.2L203.4 40.0L203.0 42.1L198.5 43.2L194.2 42.4L193.7 40.5M214.4 51.8L216.4 51.8L216.4 53.0L214.4 53.0L214.4 51.8M238.2 21.2L240.8 20.6L242.4 22.2L240.8 24.0L238.5 23.3L238.2 21.2M244.0 21.6L245.3 21.6L245.3 22.7L244.0 22.7L244.0 21.6M283.2 30.2L285.8 27.3L289.9 25.1L290.9 26.1L288.0 28.6L285.4 31.2L283.2 30.2M321.4 19.3L323.0 19.3L323.0 20.6L321.4 20.6L321.4 19.3M228.9 46.3L232.4 43.9L236.4 40.7L239.3 38.3L242.9 35.4L245.8 34.6L248.2 33.0L250.9 33.0L253.3 34.6L255.7 34.2L258.1 35.4L262.9 34.6L266.2 35.4L269.4 36.7L271.8 38.3L273.2 40.0L270.2 39.2L266.6 38.7L266.0 40.7L267.1 43.6L270.7 43.4L273.4 41.5L275.8 39.4L277.4 37.0L279.0 37.8L282.2 37.0L286.2 36.2L290.3 35.4L295.1 35.1L300.5 33.1L303.4 30.2L306.6 30.6L307.8 33.1L309.4 36.0L312.6 36.7L313.4 33.1L315.8 31.2L320.6 28.3L329.4 25.4M212.2 78.1L212.2 71.0L225.0 71.0L231.5 54.0L234.7 52.1L232.3 51.1L230.0 51.4L228.9 46.3M326.4 25.4L331.2 23.8L334.7 23.5L339.2 25.1L344.1 26.7L346.5 29.6L352.1 29.9L360.1 30.6L368.2 29.6L373.8 31.5L381.0 30.7L387.4 30.2L392.3 31.2L398.7 32.5L405.1 33.1L411.5 34.1L418.0 35.1L424.4 35.1L430.8 35.4L437.2 35.1L443.7 37.9L447.7 41.2L451.4 43.6L447.7 46.8L442.8 47.6L440.4 49.2L442.4 54.0L444.6 57.5L446.2 62.7L443.3 60.8L440.4 56.9L437.5 52.7L435.9 49.2L437.2 46.3L434.0 44.7L430.8 47.6L426.0 47.9L419.6 49.2L413.1 50.8L410.7 54.8L412.5 58.2L417.3 59.0L421.3 60.6L423.7 63.0L425.8 67.8L425.3 71.8L423.7 75.9L422.8 78.1M374.9 25.1L379.4 25.4L379.4 26.4L374.9 26.1L374.9 25.1M421.8 59.1L423.1 58.8L426.3 62.7L430.5 67.2L429.8 68.5L425.7 64.6L421.8 59.1M434.7 74.7L437.2 75.2L439.8 76.7L438.8 78.4M435.9 77.8L434.7 74.7M34.5 75.4L32.9 81.8L32.4 86.6L33.7 91.5L36.6 94.7L38.6 96.3L38.2 99.5L38.9 103.5L40.5 106.2L42.1 104.3L42.1 98.7L44.7 103.5L47.5 109.9L51.4 117.2L55.4 122.3L60.9 125.8L64.1 125.5L68.1 126.6L70.5 128.2L73.7 128.7L76.1 130.3L79.3 132.9L81.6 134.5L83.8 136.8L86.4 138.7L89.0 139.6L89.6 137.7L87.5 136.4L85.9 134.5L83.4 132.9L82.9 130.3L84.2 127.9L82.6 125.8L78.5 126.3L75.3 125.5L76.1 123.1L75.3 121.5L77.7 119.9L80.2 117.0L79.7 115.4L76.1 116.2L73.7 119.1L71.3 120.7L68.1 121.5L64.9 119.1L63.6 115.1L62.5 107.8L64.9 103.8L68.1 101.7L72.9 100.1L78.5 100.6L80.2 99.0L84.2 99.8L87.4 100.9L89.8 102.2L90.6 106.2L91.7 108.2L92.5 106.2L93.0 101.4L93.8 98.2L95.7 95.0L101.2 91.8L104.4 87.0L105.2 84.7L107.3 83.4L110.8 80.2L116.0 75.4M89.3 113.0L92.2 112.7L95.4 114.6L99.4 116.2L97.8 117.8L95.4 117.0L93.0 115.1L89.8 114.3L89.3 113.0M101.8 118.8L105.2 118.4L108.3 119.4L107.9 121.0L104.4 120.4L102.2 120.4L101.8 118.8M109.9 120.0L112.1 120.0L112.1 121.3L109.9 121.2L109.9 120.0M93.2 119.7L97.3 120.0L97.3 121.0L93.2 120.7L93.2 119.7M125.6 139.3L127.9 139.6L127.5 140.9L125.6 140.6L125.6 139.3M217.0 88.2L228.3 88.2L234.7 88.6L236.6 94.3L239.5 95.6L244.3 98.5L247.5 101.1L251.5 99.5L255.6 97.2L260.4 97.9L266.8 99.2L273.2 99.5L276.1 100.5L279.7 109.1L283.7 117.2L287.7 125.2L290.9 130.0L292.8 132.6L297.3 133.5L302.1 133.5L306.3 133.9L304.7 138.0L302.1 141.6L297.6 147.7L292.5 154.1M237.6 154.1L237.1 150.1L235.5 146.9L233.1 144.5L228.3 141.3L225.8 140.4L221.8 142.1L215.4 142.9L208.2 143.7L205.0 142.1L201.7 138.8L198.5 134.0L196.1 130.0L193.7 125.2L194.5 120.4L195.3 114.7L198.5 109.1L202.6 105.1L207.4 99.5L212.2 94.7L217.0 88.2M276.1 88.2L276.1 100.5L278.7 99.8L282.5 106.4L286.7 114.4L290.9 122.5L294.4 128.7L297.3 128.1L303.7 125.2L308.6 122.0L312.6 118.0L315.8 114.7L316.9 113.6L313.4 111.5L309.4 109.9L307.8 107.5L309.4 105.6L307.4 106.2L305.4 108.3L300.5 106.7L298.1 104.0L297.3 102.7L294.9 97.9L293.8 94.3L295.7 93.9L300.5 99.5L307.0 104.3L311.8 105.9L318.2 107.5L324.6 108.5L329.4 107.5M329.4 88.2L276.1 88.2M326.4 105.9L329.6 108.5L332.8 108.2L336.8 111.5L339.2 117.2L342.5 123.6L345.7 130.0L348.9 137.4L350.5 135.1L351.9 133.1L352.7 126.6L355.9 122.6L360.0 117.0L362.4 109.8L368.0 109.0L372.0 109.8L373.6 113.0L373.3 117.0L376.0 121.0L377.6 124.7L379.7 122.3L380.8 119.4L382.9 117.8L382.5 120.2L383.3 123.4L385.7 127.4L387.3 129.0L389.7 128.2L391.3 130.6L393.7 133.5L395.8 136.0L397.7 134.3L400.1 132.3L401.4 129.8L400.1 125.8L397.7 121.0L395.8 117.0L396.9 115.4L400.1 116.2L401.7 115.1L406.5 113.0L410.6 111.4L413.8 109.0L414.7 105.9L413.1 93.1L410.1 91.1L410.1 87.1L406.1 87.9L402.9 85.0L407.7 81.5L410.1 81.5L411.5 84.1L413.8 84.4L415.4 82.8L415.7 85.5L417.3 86.3L418.9 82.3L418.1 79.9L419.7 77.5L421.3 77.5L423.7 75.4M389.0 140.4L391.0 140.0L392.6 144.5L393.9 149.3L394.2 154.1M391.6 154.1L391.0 149.3L389.7 144.5L389.0 140.4M353.7 138.0L355.6 138.0L356.6 140.9L355.0 142.5L353.5 140.6L353.7 138.0M400.1 119.1L402.2 118.4L402.7 120.4L400.6 121.2L400.1 119.1M419.9 121.7L422.1 122.3L422.4 124.9L420.5 127.4L418.8 124.9L419.9 121.7M424.7 131.6L427.3 131.3L428.2 135.1L430.2 138.7L428.6 140.0L426.3 136.4L425.0 134.8L424.7 131.6M428.9 140.9L430.8 140.6L431.1 142.5L429.2 142.9L428.9 140.9M424.1 141.9L425.3 141.6L423.7 146.1L422.4 145.7L424.1 141.9M384.1 137.4L385.8 137.1L387.3 139.3L386.1 140.3L384.5 139.3L384.1 137.4M418.9 87.1L421.2 86.3L424.1 90.8L423.7 93.1L421.2 93.1L419.9 89.9L418.9 87.1M436.6 83.1L437.5 81.8L439.8 87.1L441.1 90.8L440.4 93.1L436.6 93.1L437.4 87.1L436.6 83.1M236.6 151.4L237.6 154.0L238.0 157.0L241.1 160.2L243.5 163.0L242.7 169.1L241.1 175.5L240.3 183.5L242.7 189.9L245.1 196.4L247.5 202.8L249.9 209.2L251.5 212.9L258.8 212.8L263.6 211.1L268.4 207.6L271.6 202.8L274.8 198.0L278.0 193.2L278.8 189.1L282.9 185.1L286.9 180.3L287.7 173.9L286.9 167.5L287.7 161.0L288.5 156.2L290.9 153.0M302.9 175.5L303.9 178.7L302.5 185.1L299.9 191.6L297.6 197.2L294.4 198.1L292.0 195.1L292.5 189.1L294.9 184.5L298.1 180.3L301.0 176.5L302.9 175.5M391.9 151.4L393.2 154.0L394.5 151.4M398.4 164.6L403.5 164.9L409.1 165.9L409.0 167.5L403.5 166.8L398.4 166.2L398.4 164.6M410.7 166.5L413.9 166.5L413.9 167.5L410.7 167.5L410.7 166.5M422.8 169.1L422.8 183.8L418.3 187.4L411.8 191.6L407.7 194.8L406.1 201.2L406.7 207.6L403.5 214.0L408.3 215.0L414.7 211.8L422.8 209.2L430.8 208.4L435.6 212.4L438.8 217.3L440.8 220.8L445.3 221.4L450.1 218.9L454.9 215.0L459.7 209.2L464.5 204.4L467.1 199.6L465.5 193.2L461.6 187.7L456.5 183.5L456.5 169.1L422.8 169.1M441.4 226.6L445.3 226.2L446.1 228.5L442.4 229.5L441.4 226.6M441.1 226.0L446.2 225.7L446.5 227.9L443.6 229.2L441.1 228.2L441.1 226.0M440.6 155.1L442.6 154.3L444.6 155.9L444.2 158.3L447.0 159.5L450.2 156.5L453.4 157.1L458.2 159.1L463.0 162.3L465.5 165.5L466.3 167.1L466.6 168.7L452.8 168.7L452.6 166.7L451.8 163.9L448.6 161.5L444.6 160.1L441.4 159.1L440.4 156.7L440.6 155.1M402.8 152.3L406.8 150.3L410.8 147.0L414.0 146.2L414.4 143.8L416.1 142.4L418.1 143.4L417.3 146.2L417.7 149.1L418.1 151.9L416.5 155.9L413.2 160.1L410.8 159.1L406.8 157.5L404.4 155.9L402.8 152.3M420.1 155.9L422.1 155.1L423.7 156.7L424.9 160.5L423.3 159.1L421.3 158.7L419.7 159.1L420.1 155.9M425.3 138.6L428.5 139.0L429.7 137.0L431.7 139.8L429.3 142.2L428.1 140.6L425.3 138.6M422.1 151.5L424.9 151.7L424.9 152.7L422.1 152.6L422.1 151.5M433.7 151.0L435.3 151.2L435.2 152.7L433.8 152.5L433.7 151.0M101.4 134.3L108.6 134.0L116.6 135.1L121.4 139.1L123.0 141.5L126.3 144.7L131.1 143.9L135.9 147.1L137.5 151.1L135.1 154.4L140.7 154.4L145.5 157.6L152.0 159.2L158.4 161.6L163.2 164.8L164.0 168.0L161.6 172.8L158.4 179.3L156.8 185.7L156.8 187.9L152.0 192.7L144.7 195.9L143.1 200.7L140.7 207.1L136.7 212.7L132.7 211.1L131.1 213.6L132.7 216.8L131.1 220.8L125.4 221.6L123.8 224.8L122.7 229.6L123.8 237.6L123.0 243.3L119.0 243.3L115.8 240.9L114.2 234.4L111.8 226.4L109.9 221.6L108.9 211.9L108.6 202.3L108.9 192.7L107.8 186.2L102.2 181.4L98.9 179.3L93.3 171.2L90.1 164.8L87.7 160.0L88.5 154.4L93.3 149.5L94.1 143.9L98.1 136.7L101.4 134.3M151.1 21.9L153.5 20.0L157.5 19.5L165.5 18.3L172.0 17.9L186.4 17.1L194.4 16.3L200.1 18.7L205.7 17.9L202.5 21.1L200.9 24.3L194.4 29.9L191.2 33.1L186.4 34.7L181.6 36.3L175.2 38.7L171.1 41.2L167.1 44.0L163.1 46.8L159.1 46.0L157.5 42.8L157.2 38.7L160.7 34.7L161.5 30.7L159.9 27.5L155.9 24.3L151.9 23.5L151.1 21.9M380.4 143.6L384.2 143.7L390.4 151.2L396.6 158.7L397.6 162.5L394.9 163.2L390.4 160.0L384.2 152.5L380.0 146.0L380.4 143.6M485.0 212.5L486.5 214.0L488.5 216.0L488.0 218.5L485.0 219.5L482.5 222.0L479.0 224.0L473.0 227.0L467.0 229.5L461.0 232.0L458.5 232.8L457.8 231.0L461.0 228.5L467.0 226.5L473.0 224.0L478.0 221.0L481.5 218.0L483.0 215.0L485.0 212.5" fill="none" stroke="#83929d" stroke-width="1.15" stroke-linejoin="round"/>
<g clip-path="url(#lc)"><path d="M20.7 0V257M41.2 0V257M61.7 0V257M82.2 0V257M102.7 0V257M123.2 0V257M143.7 0V257M164.2 0V257M184.7 0V257M205.2 0V257M225.7 0V257M246.2 0V257M266.7 0V257M287.2 0V257M307.7 0V257M328.2 0V257M348.7 0V257M369.2 0V257M389.7 0V257M410.2 0V257M430.7 0V257M451.2 0V257M471.7 0V257" fill="none" stroke="#bdbdbd" stroke-width="0.8"/></g>
<rect x="41.7" y="0" width="19.9" height="257" fill="#3e7ca8" fill-opacity="0.66"/>
<rect x="62.7" y="54.1" width="182.6" height="16.5" rx="3" fill="#d1e1fd" stroke="#8094cb" stroke-width="1"/>
<rect x="165.7" y="72.9" width="182.2" height="16.6" rx="3" fill="#fbf8a6" stroke="#aaa844" stroke-width="1"/>
<path d="M331.9 91.9H491.5V108.4H331.9A3 3 0 0 1 328.9 105.4V94.9A3 3 0 0 1 331.9 91.9Z" fill="#ffe1e6" stroke="#d08796" stroke-width="1"/>
<rect x="-7.5" y="91.9" width="27.4" height="16.5" rx="3" fill="#ffe1e6" stroke="#d08796" stroke-width="1"/>
<path d="M373.3 167.5H491.5V184.0H373.3A3 3 0 0 1 370.3 181.0V170.5A3 3 0 0 1 373.3 167.5Z" fill="#cbf7c8" stroke="#72b56a" stroke-width="1"/>
<rect x="-7.5" y="167.5" width="68.0" height="16.5" rx="3" fill="#cbf7c8" stroke="#72b56a" stroke-width="1"/>
<path d="M0.5 0V257" stroke="#8e979d" stroke-width="1" fill="none"/><path d="M0 256.5H492" stroke="#8c99a2" stroke-width="0.9" fill="none"/>
</svg>
<div class="bar ny" style="left:62.2px;top:53.3px;width:183.5px;"><span class="bl" style="left:60.6px;top:1px;"><svg class="ic" width="11" height="11" viewBox="0 0 11 11"><circle cx="5.5" cy="5.5" r="3.8" fill="#fff" stroke="#e8393d" stroke-width="1.7"/><path d="M5.6 3.6V5.3L6.6 6.2" fill="none" stroke="#777" stroke-width="0.8"/></svg></span><span class="bt" style="left:73.6px;">Нью-Йорк</span></div>
<div class="bar ln" style="left:165.3px;top:72.4px;width:183px;"><span class="bl" style="left:65.5px;top:0.8px;"><svg class="ic" width="11" height="11" viewBox="0 0 11 11"><circle cx="5.5" cy="5.5" r="3.8" fill="#fff" stroke="#e8393d" stroke-width="1.7"/><path d="M5.6 3.6V5.3L6.6 6.2" fill="none" stroke="#777" stroke-width="0.8"/></svg></span><span class="bt" style="left:78.4px;">Лондон</span></div>
<div class="bar tk" style="left:328.4px;top:91.5px;width:170px;"><span class="bl" style="left:60.5px;top:0.8px;"><svg class="ic" width="11" height="11" viewBox="0 0 11 11"><circle cx="5.5" cy="5.5" r="3.8" fill="#fff" stroke="#e8393d" stroke-width="1.7"/><path d="M5.6 3.6V5.3L6.6 6.2" fill="none" stroke="#777" stroke-width="0.8"/></svg></span><span class="bt" style="left:74.4px;">Токио</span></div>
<div class="bar sy" style="left:369.8px;top:167.1px;width:130px;"><span class="bl" style="left:35.5px;top:0.6px;"><svg class="ic" width="11" height="11" viewBox="0 0 11 11"><circle cx="5.5" cy="5.5" r="3.8" fill="#fff" stroke="#58b043" stroke-width="1.7"/><path d="M5.6 3.6V5.3L6.6 6.2" fill="none" stroke="#777" stroke-width="0.8"/></svg></span><span class="bt" style="left:48.7px;">Сидней</span></div>
</div>
<div class="abs leg" style="left:254px;top:336px;font-size:9.5px;line-height:12px;">Условные обозначения</div>
<div class="sw ny" style="top:356px;"></div>
<div class="sw ln" style="top:374px;"></div>
<div class="sw tk" style="top:393px;"></div>
<div class="sw sy" style="top:411px;"></div>
<div class="abs leg" style="left:273.4px;top:356.5px;">Нью-Йорк - Открытие 18.10.2023</div>
<div class="abs leg" style="left:273.4px;top:374.7px;">Лондон - Открытие 18.10.2023</div>
<div class="abs leg" style="left:273.4px;top:393px;">Токио - Открытие через 1 ч. 39 мин</div>
<div class="abs leg" style="left:273.4px;top:411.2px;">Сидней - Закрытие через 8 ч. 39 мин</div>
<div class="abs" style="left:254.1px;top:428px;line-height:0;transform:translateY(0.2px) scale(0.96);transform-origin:50% 50%;"><svg class="ic" width="11" height="11" viewBox="0 0 11 11"><circle cx="5.5" cy="5.5" r="3.8" fill="#fff" stroke="#58b043" stroke-width="1.7"/><path d="M5.6 3.6V5.3L6.6 6.2" fill="none" stroke="#777" stroke-width="0.8"/></svg></div>
<div class="abs" style="left:254.1px;top:446px;line-height:0;transform:translateY(0.5px) scale(0.96);transform-origin:50% 50%;"><svg class="ic" width="11" height="11" viewBox="0 0 11 11"><circle cx="5.5" cy="5.5" r="3.8" fill="#fff" stroke="#e8393d" stroke-width="1.7"/><path d="M5.6 3.6V5.3L6.6 6.2" fill="none" stroke="#777" stroke-width="0.8"/></svg></div>
<div class="abs leg" style="left:280.5px;top:429.5px;">Рынок открыт</div>
<div class="abs leg" style="left:280.5px;top:447.5px;">Рынок закрыт</div>
<div class="abs leg" style="left:479.3px;top:336px;font-size:9.5px;line-height:12px;">Накладки:</div>
<div class="abs ov" style="left:479.3px;top:357px;">Лондон и Нью-Йорк [12:00 - 16:00] GMT</div>
<div class="abs ov" style="left:479.3px;top:374.6px;">Токио и Лондон [07:00 - 08:00] GMT</div>
<div class="abs ov" style="left:479.3px;top:391.7px;">Сидней и Токио [23:00 - 06:00] GMT</div>
<div class="abs leg" style="left:479.3px;top:418.3px;line-height:10.4px;white-space:pre;">&nbsp;Накладывающиеся торговые часы
содержат наибольшее количество
трейдеров.</div>
<svg class="abs" style="left:800px;top:415px;" width="150" height="55" viewBox="0 0 1024 375.5">
<path d="M95 312V252C70 225 50 190 50 150C50 95 95 60 150 60C205 60 245 92 249 135L250 160L271 190L256 205L259 224L251 240L256 255C254 268 240 276 216 278C204 280 200 288 200 312" fill="none" stroke="#aebbe0" stroke-width="6.5" stroke-linejoin="round"/>
<g stroke-width="4.5" fill="none">
<path d="M92 110V205" stroke="#fbc9a3"/><path d="M180 140V245" stroke="#fbc9a3"/><path d="M222 138V186" stroke="#fbc9a3"/>
<path d="M118 140V262" stroke="#c3cde8"/><path d="M134 140V312" stroke="#aebbe0"/><path d="M158 85V190" stroke="#aebbe0"/><path d="M202 85V270" stroke="#aebbe0"/>
</g>
<rect x="86" y="135" width="12" height="46" fill="#fbc9a3"/><rect x="173" y="170" width="14" height="46" fill="#fbc9a3"/><rect x="216" y="150" width="12" height="16" fill="#fbc9a3"/>
<rect x="111" y="185" width="13" height="42" fill="#c3cde8"/><rect x="127" y="175" width="14" height="90" fill="#aebbe0"/><rect x="152" y="124" width="12" height="28" fill="#aebbe0"/><rect x="195" y="140" width="14" height="76" fill="#aebbe0"/>
</svg>
<div class="abs" id="lg1">МИР</div>
<div class="abs" id="lg2">ТРЕЙДИНГА</div>
</body>
</html>
